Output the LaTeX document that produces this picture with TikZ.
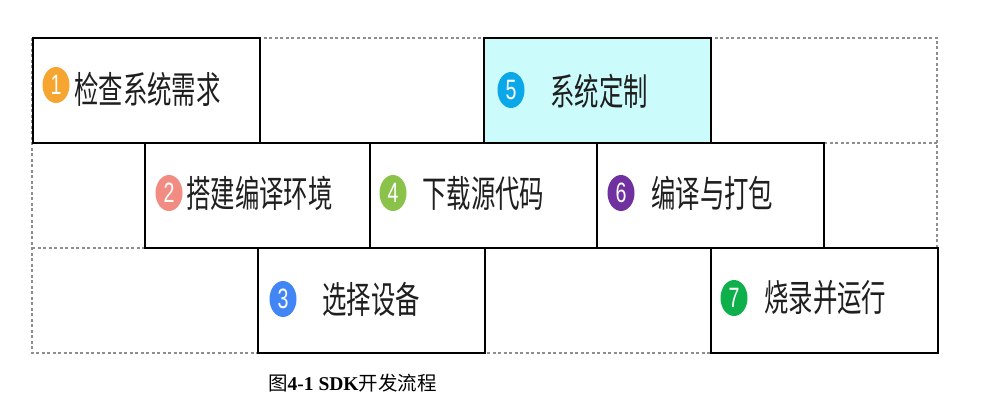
\documentclass[tikz,border=0pt]{standalone}
\usepackage{fontspec}
\setmainfont{Liberation Serif}
\newfontfamily\cjk[FakeStretch=0.66]{Noto Sans CJK SC}
\newfontfamily\capcjk{Noto Sans CJK SC}
\newfontfamily\numfont[FakeStretch=0.7]{Liberation Sans}
\usetikzlibrary{shapes.geometric}
\definecolor{cA}{HTML}{F7A531}
\definecolor{cB}{HTML}{F28B82}
\definecolor{cC}{HTML}{4285F4}
\definecolor{cD}{HTML}{8BC34A}
\definecolor{cE}{HTML}{0AA8E8}
\definecolor{cF}{HTML}{7030A0}
\definecolor{cG}{HTML}{0DB04B}
\definecolor{lightcyan}{HTML}{CCFBFB}
\definecolor{dashgray}{HTML}{8E8E8E}
\tikzset{
  rowbox/.style={rectangle, anchor=north west, inner sep=0pt, outer sep=0pt, minimum width=905pt, minimum height=105pt},
  dashline/.style={draw=dashgray, line width=2.2pt, dash pattern=on 3pt off 2.5pt},
  stepbox/.style={draw=black, line width=2.6pt, fill=white, rectangle, anchor=north west, inner sep=0pt, outer sep=0pt, minimum width=227pt, minimum height=105pt},
  badge/.style={ellipse, fill=#1, text=white, inner sep=0pt, minimum width=27pt, minimum height=36pt, font=\numfont\fontsize{28}{28}\selectfont},
  label/.style={anchor=west, inner sep=0pt, font=\cjk\fontsize{37}{40}\selectfont, text=black!88}
}
\begin{document}
\begin{tikzpicture}[x=1pt,y=-1pt]
\useasboundingbox (0,0) rectangle (998,406);
% dashed rows
\node[rowbox] (rowA) at (32,38) {};
\node[rowbox] (rowB) at (32,143) {};
\node[rowbox] (rowC) at (32,248) {};
\draw[dashline] (rowA.north west) rectangle (rowC.south east);
\draw[dashline] (rowA.south west) -- (rowA.south east);
\draw[dashline] (rowB.south west) -- (rowB.south east);
% step boxes
\node[stepbox] (s1) at (33,38) {};
\node[stepbox, fill=lightcyan] (s5) at (484,38) {};
\node[stepbox] (s2) at (145,143) {};
\node[stepbox] (s4) at (370,143) {};
\node[stepbox] (s6) at (597,143) {};
\node[stepbox] (s3) at (258,248) {};
\node[stepbox] (s7) at (711,248) {};
% badges
\node[badge=cA] (b1) at (56,85) {1};
\node[badge=cE] (b5) at (511,90) {5};
\node[badge=cB] (b2) at (169,193) {2};
\node[badge=cD] (b4) at (393,193) {4};
\node[badge=cF] (b6) at (621,193) {6};
\node[badge=cC] (b3) at (283,299) {3};
\node[badge=cG] (b7) at (734,298) {7};
% labels
\node[label] (t1) at (74,89) {检查系统需求};
\node[label] (t5) at (550,91) {系统定制};
\node[label] (t2) at (186,193) {搭建编译环境};
\node[label] (t4) at (422,193) {下载源代码};
\node[label] (t6) at (651,193) {编译与打包};
\node[label] (t3) at (322,299) {选择设备};
\node[label] (t7) at (764,298) {烧录并运行};
% caption
\node[anchor=base west, inner sep=0pt, font=\fontsize{19.5}{21}\selectfont] (cap) at (268,390) {{\capcjk 图}\textbf{4-1 SDK}{\capcjk 开发流程}};
\end{tikzpicture}
\end{document}
